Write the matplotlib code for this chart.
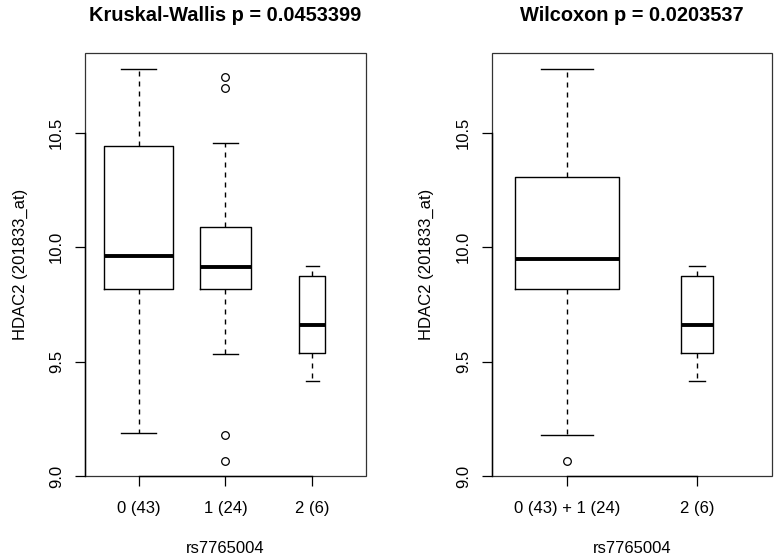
import numpy as np
import matplotlib
matplotlib.use('Agg')
import matplotlib.pyplot as plt
from matplotlib.patches import Rectangle

plt.rcParams['font.family'] = ['Liberation Sans', 'DejaVu Sans']

# values (R-style boxplots, varwidth)
groups_left = ['0 (43)', '1 (24)', '2 (6)']
counts_left = [43, 24, 6]
whislo_left = [9.190, 9.533, 9.413]
q1_left = [9.817, 9.819, 9.538]
med_left = [9.963, 9.913, 9.658]
q3_left = [10.441, 10.087, 9.872]
whishi_left = [10.779, 10.454, 9.917]
fliers_left = [[], [9.067, 9.179, 10.697, 10.745], []]

groups_right = ['0 (43) + 1 (24)', '2 (6)']
counts_right = [67, 6]
whislo_right = [9.179, 9.413]
q1_right = [9.819, 9.538]
med_right = [9.949, 9.658]
q3_right = [10.306, 9.872]
whishi_right = [10.779, 9.917]
fliers_right = [[9.067], []]

yticks = [9.0, 9.5, 10.0, 10.5]
titles = ['Kruskal-Wallis p = 0.0453399', 'Wilcoxon p = 0.0203537']
xlabel = 'rs7765004'
ylabel = 'HDAC2 (201833_at)'


def draw_panel(ax, labels, counts, lo, q1, med, q3, hi, fl, title):
    n = len(labels)
    stats = []
    for i in range(n):
        stats.append(dict(label=labels[i], whislo=lo[i], q1=q1[i], med=med[i],
                          q3=q3[i], whishi=hi[i], fliers=fl[i]))
    widths = [0.8 * np.sqrt(c / max(counts)) for c in counts]
    pos = np.arange(1, n + 1)
    ax.bxp(stats, positions=pos, widths=widths, capwidths=[w / 2 for w in widths],
           boxprops=dict(color='black', lw=1.0),
           whiskerprops=dict(color='black', lw=1.0, linestyle=(0, (3.6, 3.6))),
           capprops=dict(color='black', lw=1.0),
           medianprops=dict(color='black', lw=2.8, solid_capstyle='butt'),
           flierprops=dict(marker='o', markerfacecolor='none', markeredgecolor='black',
                           markersize=5.5, markeredgewidth=0.9))
    ax.set_xlim(0.5 - 0.04 * n, n + 0.5 + 0.04 * n)
    ax.set_ylim(9.0, 10.848)
    ax.set_xticks(pos)
    ax.set_xticklabels(labels, fontsize=12)
    ax.set_yticks(yticks)
    ax.set_yticklabels(['9.0', '9.5', '10.0', '10.5'], fontsize=12, rotation=90, va='center')
    ax.tick_params(length=7, width=0.9, pad=8)
    ax.tick_params(axis='x', pad=11)
    for s in ['top', 'right']:
        ax.spines[s].set_visible(False)
    ax.spines['left'].set_bounds(yticks[0], yticks[-1])
    ax.spines['bottom'].set_bounds(1, n)
    ax.spines['left'].set_linewidth(1.0)
    ax.spines['bottom'].set_linewidth(1.0)
    ax.add_patch(Rectangle((0, 0), 1, 1, transform=ax.transAxes, fill=False,
                           edgecolor='#333333', lw=0.9, clip_on=False))
    ax.set_title(title, fontsize=14.4, fontweight='bold', pad=23)
    ax.set_xlabel(xlabel, fontsize=12)
    ax.set_ylabel(ylabel, fontsize=12)
    ax.xaxis.set_label_coords(0.5, -0.172)
    ax.xaxis.label.set_va('center')
    ax.yaxis.set_label_coords(-0.231, 0.5)
    ax.yaxis.label.set_va('center')


fig = plt.figure(figsize=(7.74, 5.6), dpi=100)
ax1 = fig.add_axes([0.1098, 0.15, 0.3630, 0.7554])
ax2 = fig.add_axes([0.6353, 0.15, 0.3625, 0.7554])

draw_panel(ax1, groups_left, counts_left, whislo_left, q1_left, med_left,
           q3_left, whishi_left, fliers_left, titles[0])
draw_panel(ax2, groups_right, counts_right, whislo_right, q1_right, med_right,
           q3_right, whishi_right, fliers_right, titles[1])

fig.savefig('out.png', dpi=100)
